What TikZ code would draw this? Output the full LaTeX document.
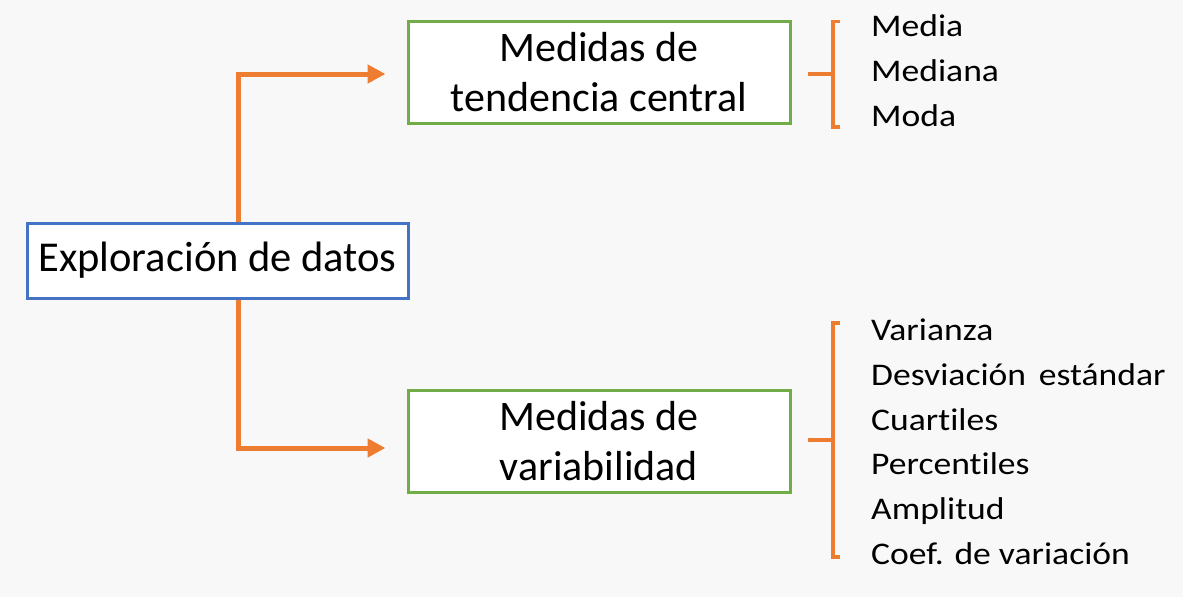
\documentclass[tikz,border=0pt]{standalone}
\usepackage{fontspec}
\setmainfont{Carlito}[Ligatures=NoCommon]
\newfontfamily\itemfont[FakeStretch=1.13,Ligatures=NoCommon]{Carlito}
\usetikzlibrary{arrows.meta,calc}
\definecolor{bgc}{HTML}{F8F8F8}
\definecolor{blu}{HTML}{4472C4}
\definecolor{grn}{HTML}{70AD47}
\definecolor{org}{HTML}{ED7D31}
\tikzset{
  mainbox/.style={draw=blu,line width=3pt,fill=white,minimum width=381pt,minimum height=75pt,inner sep=0pt,font=\fontsize{42.5}{50}\selectfont},
  catbox/.style={draw=grn,line width=3pt,fill=white,minimum width=382pt,minimum height=102pt,inner sep=0pt,align=center,font=\fontsize{42}{50}\selectfont},
  arr/.style={draw=org,line width=5pt,-{Triangle[length=18pt,width=18pt]}},
  brk/.style={draw=org,line width=3.2pt},
  item/.style={anchor=base west,inner sep=0pt,font=\itemfont\fontsize{31.5}{38}\selectfont}
}
\begin{document}
\begin{tikzpicture}[x=1pt,y=-1pt]
\fill[bgc] (0,0) rectangle (1183,597);
\useasboundingbox (0,0) rectangle (1183,597);
\node[mainbox] (main) at (217.5,260.5) {Exploración de datos};
\node[catbox] (top) at (599,72.5) {Medidas de\\tendencia central};
\node[catbox] (bot) at (599,441) {Medidas de\\variabilidad};
\coordinate (ta) at ($(top.west)+(-21,1.5)$);
\coordinate (ba) at ($(bot.west)+(-21,7)$);
\draw[arr] (main.north -| 238,0) |- (ta);
\draw[arr] (main.south -| 238,0) |- (ba);
% top bracket
\coordinate (tb) at (833,74);
\draw[brk] (808,74) -- (tb);
\draw[brk] (840,21.5) -- (833,21.5) -- (833,127) -- (840,127);
% bottom bracket
\coordinate (bb) at (833,440);
\draw[brk] (808,440) -- (bb);
\draw[brk] (840,323) -- (833,323) -- (833,557) -- (840,557);
\node[item] (m1) at (871,36) {Media};
\node[item] (m2) at (871,81) {Mediana};
\node[item] (m3) at (871,126) {Moda};
\node[item] (v1) at (871,340) {Varianza};
\node[item] (v2) at (871,385) {Desviación\hspace{0.15em} estándar};
\node[item] (v3) at (871,430) {Cuartiles};
\node[item] (v4) at (871,474) {Percentiles};
\node[item] (v5) at (871,519) {Amplitud};
\node[item] (v6) at (871,564) {Coef. de variación};
\end{tikzpicture}
\end{document}
